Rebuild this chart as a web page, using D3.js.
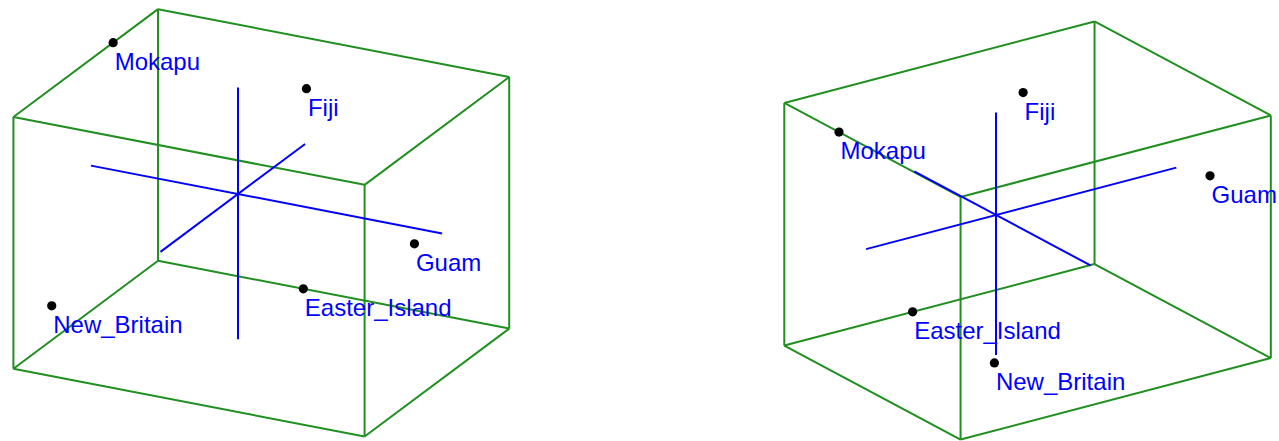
<!DOCTYPE html>
<html>
<head>
<meta charset="utf-8">
<script src="https://cdn.jsdelivr.net/npm/d3@7"></script>
<style>
  html, body { margin: 0; padding: 0; background: #ffffff; }
  svg { display: block; }
  text { font-family: "Liberation Sans", Arial, Helvetica, sans-serif; }
</style>
</head>
<body>
<svg id="chart" width="1279" height="441"></svg>
<script>
// Sample sites and their scores on the first three components
const sites = ["Mokapu", "Fiji", "Guam", "Easter_Island", "New_Britain"];
const pc1 = [-1.65, 0.59, 2.29, -0.02, -1.22];
const pc2 = [0.49, 0.35, -0.61, 1.48, -1.71];
const pc3 = [1.15, 1.12, 0.11, -1.57, -0.81];

// Two camera orientations of the same scene (azimuth / elevation in degrees)
const views = [
  { azimuth: 26.96, elevation: 22.3, zoom: 100, cx: 238, cy: 194 },
  { azimuth: -35.06, elevation: 21.98, zoom: 96.2, cx: 996, cy: 215 }
];

const boxColor = "#208f20";
const axisColor = "#0000ff";
const labelColor = "#0000ff";

const svg = d3.select("#chart");

const points = sites.map((s, i) => ({ name: s, x: pc1[i], y: pc2[i], z: pc3[i] }));
const xr = d3.extent(pc1), yr = d3.extent(pc2), zr = d3.extent(pc3);

// bounding box edges (pairs of corners differing in one coordinate)
const corners = [];
for (const x of xr) for (const y of yr) for (const z of zr) corners.push([x, y, z]);
const boxEdges = [];
for (let a = 0; a < 8; a++) {
  for (let b = a + 1; b < 8; b++) {
    let diff = 0;
    for (let k = 0; k < 3; k++) if (corners[a][k] !== corners[b][k]) diff++;
    if (diff === 1) boxEdges.push([corners[a], corners[b]]);
  }
}

// axis lines through the origin spanning the data range
const axes = [
  [[xr[0], 0, 0], [xr[1], 0, 0]],
  [[0, yr[0], 0], [0, yr[1], 0]],
  [[0, 0, zr[0]], [0, 0, zr[1]]]
];

views.forEach(v => {
  const a = v.azimuth * Math.PI / 180;
  const e = v.elevation * Math.PI / 180;
  const sx = d3.scaleLinear().domain([0, 1]).range([v.cx, v.cx + v.zoom]);
  const sy = d3.scaleLinear().domain([0, 1]).range([v.cy, v.cy - v.zoom]);
  const project = p => {
    const h = p[0] * Math.cos(a) + p[1] * Math.sin(a);
    const d = -p[0] * Math.sin(a) + p[1] * Math.cos(a);
    const up = p[2] * Math.cos(e) + d * Math.sin(e);
    return [sx(h), sy(up)];
  };

  const g = svg.append("g");

  g.append("g").selectAll("line").data(boxEdges).join("line")
    .attr("x1", d => project(d[0])[0]).attr("y1", d => project(d[0])[1])
    .attr("x2", d => project(d[1])[0]).attr("y2", d => project(d[1])[1])
    .attr("stroke", boxColor).attr("stroke-width", 2);

  g.append("g").selectAll("line").data(axes).join("line")
    .attr("x1", d => project(d[0])[0]).attr("y1", d => project(d[0])[1])
    .attr("x2", d => project(d[1])[0]).attr("y2", d => project(d[1])[1])
    .attr("stroke", axisColor).attr("stroke-width", 2);

  g.append("g").selectAll("circle").data(points).join("circle")
    .attr("cx", d => project([d.x, d.y, d.z])[0])
    .attr("cy", d => project([d.x, d.y, d.z])[1])
    .attr("r", 4.6)
    .attr("fill", "#000000");

  g.append("g").selectAll("text").data(points).join("text")
    .attr("x", d => project([d.x, d.y, d.z])[0] + 1.5)
    .attr("y", d => project([d.x, d.y, d.z])[1] + 27)
    .attr("fill", labelColor)
    .attr("font-size", 24)
    .text(d => d.name);
});
</script>
</body>
</html>
